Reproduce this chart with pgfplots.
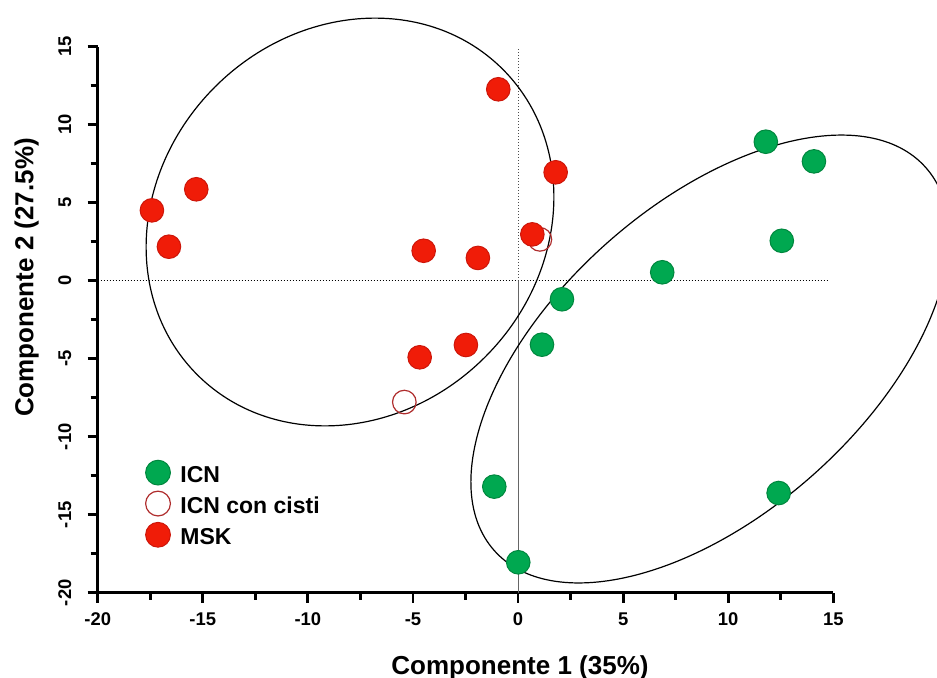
\documentclass[border=0pt]{standalone}
\usepackage{fontspec}
\setmainfont{Liberation Sans}
\usepackage{pgfplots}
\pgfplotsset{compat=1.18}
\definecolor{icn}{RGB}{0,168,80}
\definecolor{icnb}{RGB}{0,135,62}
\definecolor{msk}{RGB}{240,28,8}
\definecolor{mskb}{RGB}{205,22,10}
\definecolor{cist}{RGB}{175,45,45}
\pgfplotsset{
  mymark/.style={only marks, legend image code/.code={\draw[##1, mark size=6.2pt] plot coordinates {(0pt,1.5pt)};}},
}
\begin{document}
\begin{tikzpicture}
\useasboundingbox (-48.85pt,-42.15pt) rectangle (419.65pt,296.35pt);
\begin{axis}[
  at={(0pt,0pt)}, anchor=south west,
  scale only axis, width=367.8pt, height=273pt,
  xmin=-20, xmax=15, ymin=-20, ymax=15,
  axis lines=left, axis line style={-, line width=1.4pt},
  clip=false,
  xtick={-20,-15,...,15}, ytick={-20,-15,...,15},
  xticklabels={-20,-15,-10,-5,0,5,10,15},
  yticklabels={-20,-15,-10,-5,0,5,10,15},
  minor tick num=1,
  tick align=outside,
  major tick length=5pt, minor tick length=3.5pt,
  every tick/.append style={black, line width=1.4pt},
  ticklabel style={font=\bfseries\fontsize{9.2}{9.2}\selectfont, inner sep=0pt},
  xticklabel style={anchor=base, yshift=-11.5pt},
  yticklabel style={xshift=-8.25pt, rotate=90, anchor=base},
  xlabel={Componente 1 (35\%)},
  ylabel={Componente 2 (27.5\%)},
  xlabel style={at={(axis description cs:0.5741,-0.1495)}, anchor=base, inner sep=0pt, font=\bfseries\fontsize{13}{13}\selectfont},
  ylabel style={at={(axis description cs:-0.0876,0.5773)}, anchor=base, inner sep=0pt, font=\bfseries\fontsize{13}{13}\selectfont},
  legend style={draw=none, fill=none, at={(axis description cs:0.0646,0.2434)}, anchor=north west,
    font=\bfseries\fontsize{11.5}{11.5}\selectfont, row sep=1pt, column sep=3pt, inner sep=0pt},
  legend cell align=left,
]
\addplot[forget plot, black, line width=0.5pt, densely dotted] coordinates {(-20,0) (14.7,0)};
\addplot[forget plot, black!60, line width=0.5pt] coordinates {(0,-20) (0,0)};
\addplot[forget plot, black!70, line width=0.5pt, densely dotted] coordinates {(0,0) (0,14.9)};
\draw[line width=0.6pt, rotate around={45:(axis cs:-7.995,3.763)}] (axis cs:-7.995,3.763) ellipse [x radius=108pt, y radius=95.5pt];
\draw[line width=0.6pt, rotate around={41.6:(axis cs:9.133,-5.019)}] (axis cs:9.133,-5.019) ellipse [x radius=144.25pt, y radius=77.55pt];

\addplot[mymark, mark=*, mark size=5.9pt, mark options={fill=icn, draw=icnb, line width=0.5pt}] coordinates {
(11.79,8.91) (14.08,7.65) (12.55,2.56) (6.86,0.54) (2.09,-1.19) (1.14,-4.10) (-1.13,-13.2) (0.01,-18.05) (12.40,-13.61)
};
\addlegendentry{ICN}
\addplot[mymark, mark=o, mark size=5.9pt, mark options={draw=cist, line width=0.6pt}] coordinates {
(1.04,2.65) (-5.41,-7.78)
};
\addlegendentry{ICN con cisti}
\addplot[mymark, mark=*, mark size=5.9pt, mark options={fill=msk, draw=mskb, line width=0.5pt}] coordinates {
(-17.42,4.51) (-16.61,2.18) (-15.31,5.86) (-4.49,1.92) (-1.91,1.46) (-0.94,12.27) (1.79,6.95) (0.68,2.97) (-4.68,-4.91) (-2.48,-4.12)
};
\addlegendentry{MSK}
\end{axis}
\end{tikzpicture}
\end{document}
